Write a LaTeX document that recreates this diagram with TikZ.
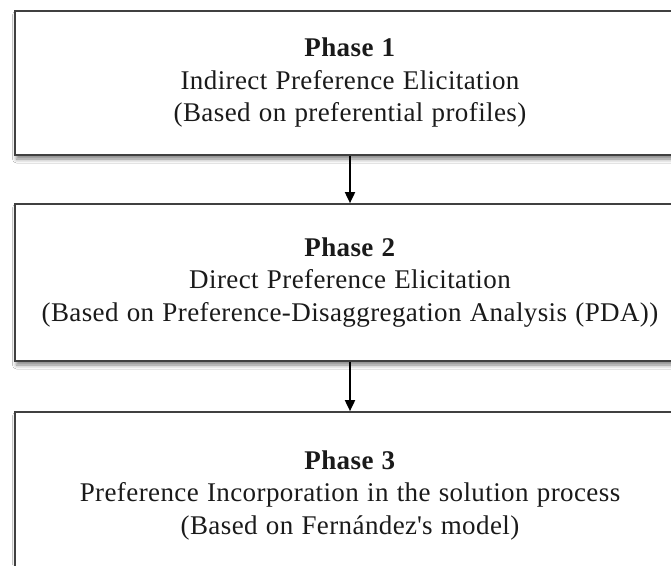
\documentclass[tikz,border=0pt]{standalone}
\usepackage{fontspec}
\setmainfont[WordSpace=1.15,LetterSpace=1.5]{Liberation Serif}
\usetikzlibrary{arrows.meta,shadows.blur}
\definecolor{boxgray}{HTML}{404040}
\definecolor{inkgray}{HTML}{1A1A1A}
\begin{document}
\begin{tikzpicture}[x=1pt,y=1pt,
  phasebox/.style={draw=boxgray, line width=1.7pt, fill=white, rectangle,
    minimum width=670pt, align=center, inner sep=0pt, text=inkgray,
    font=\fontsize{27}{32.5}\selectfont,
    blur shadow={shadow xshift=1.5pt, shadow yshift=-4pt,
      shadow blur radius=4pt, shadow opacity=50}},
  flow/.style={-{Triangle[width=10pt,length=11pt]}, line width=1.8pt, draw=black}]
  \useasboundingbox (0,0) rectangle (671,-565);
  \clip (0,0) rectangle (671,-565);
  \fill[white] (0,0) rectangle (671,-565);

  \node[phasebox, minimum height=144pt] (p1) at (350,-83)
    {\textbf{Phase 1}\\Indirect Preference Elicitation\\(Based on preferential profiles)};
  \node[phasebox, minimum height=157pt] (p2) at (350,-282.5)
    {\textbf{Phase 2}\\Direct Preference Elicitation\\(Based on Preference-Disaggregation Analysis (PDA))};
  \node[phasebox, minimum height=178pt] (p3) at (350,-501) {};
  \node[align=center, inner sep=0pt, text=inkgray,
    font=\fontsize{27}{32.5}\selectfont] (t3) at (350,-495)
    {\textbf{Phase 3}\\Preference Incorporation in the solution process\\(Based on Fernández\textquotesingle s model)};

  \draw[flow] (p1.south) -- (p2.north);
  \draw[flow] (p2.south) -- (p3.north);
\end{tikzpicture}
\end{document}
